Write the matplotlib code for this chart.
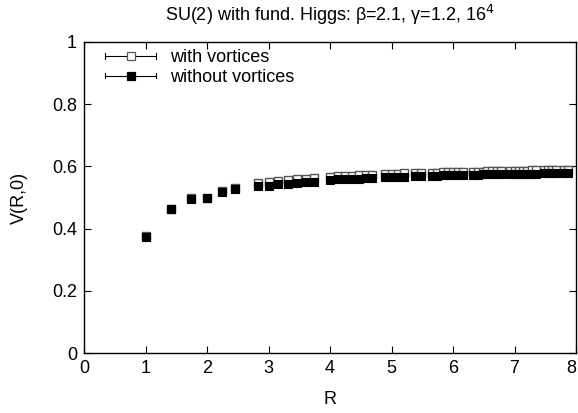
import matplotlib
matplotlib.use("Agg")
import matplotlib.pyplot as plt
from matplotlib.legend_handler import HandlerBase
from matplotlib.lines import Line2D

plt.rcParams['font.family'] = ['Liberation Sans', 'DejaVu Sans']

R = [1.000, 1.414, 1.732, 2.000, 2.236, 2.449, 2.828, 3.000, 3.162, 3.317,
     3.464, 3.606, 3.742, 4.000, 4.123, 4.243, 4.359, 4.472, 4.583, 4.690,
     4.899, 5.000, 5.099, 5.196, 5.385, 5.477, 5.657, 5.745, 5.831, 5.916,
     6.000, 6.083, 6.164, 6.325, 6.403, 6.481, 6.557, 6.633, 6.708, 6.782,
     6.928, 7.000, 7.071, 7.141, 7.211, 7.280, 7.348, 7.483, 7.550, 7.616,
     7.681, 7.810, 7.874]

V_with = [0.375, 0.463, 0.498, 0.500, 0.522, 0.532, 0.546, 0.549, 0.553, 0.556,
          0.558, 0.561, 0.563, 0.567, 0.568, 0.569, 0.570, 0.571, 0.572, 0.573,
          0.575, 0.576, 0.577, 0.578, 0.579, 0.579, 0.580, 0.580, 0.581, 0.581,
          0.582, 0.582, 0.582, 0.583, 0.583, 0.583, 0.584, 0.584, 0.584, 0.585,
          0.585, 0.586, 0.586, 0.586, 0.586, 0.587, 0.587, 0.587, 0.587, 0.588,
          0.588, 0.588, 0.588]

V_without = [0.374, 0.462, 0.495, 0.497, 0.518, 0.527, 0.538, 0.538, 0.542, 0.545,
             0.547, 0.549, 0.551, 0.557, 0.558, 0.559, 0.560, 0.561, 0.562, 0.562,
             0.565, 0.566, 0.567, 0.567, 0.569, 0.569, 0.570, 0.570, 0.571, 0.571,
             0.572, 0.572, 0.572, 0.573, 0.573, 0.574, 0.574, 0.574, 0.575, 0.575,
             0.575, 0.576, 0.576, 0.576, 0.577, 0.577, 0.577, 0.578, 0.578, 0.578,
             0.578, 0.579, 0.579]

x_ticks = [0, 1, 2, 3, 4, 5, 6, 7, 8]
y_ticks = [0, 0.2, 0.4, 0.6, 0.8, 1]
y_ticklabels = ['0', '0.2', '0.4', '0.6', '0.8', '1']

FS = 13

fig = plt.figure(figsize=(5.78, 4.13), dpi=100)
ax = fig.add_axes([84/578, 1-353/413, (576-84)/578, (353-42)/413])

ms = 6.3
ax.plot(R, V_with, linestyle='none', marker='s', markersize=ms,
        markerfacecolor='white', markeredgecolor='#555555', markeredgewidth=1.0,
        zorder=2)
ax.plot(R, V_without, linestyle='none', marker='s', markersize=ms,
        markerfacecolor='black', markeredgecolor='black', markeredgewidth=0.8,
        zorder=3)


class ErrHandler(HandlerBase):
    def __init__(self, face, edge):
        super().__init__()
        self.face = face
        self.edge = edge

    def create_artists(self, legend, orig_handle, xdescent, ydescent,
                       width, height, fontsize, trans):
        y = height / 2 - ydescent
        x0, x1 = -xdescent, width - xdescent
        xm = (x0 + x1) / 2
        cap = 2.0
        arts = [
            Line2D([x0, x1], [y, y], color='black', lw=0.8, transform=trans),
            Line2D([x0, x0], [y - cap, y + cap], color='black', lw=0.8, transform=trans),
            Line2D([x1, x1], [y - cap, y + cap], color='black', lw=0.8, transform=trans),
            Line2D([xm], [y], linestyle='none', marker='s', markersize=ms - 0.8,
                   markerfacecolor=self.face, markeredgecolor=self.edge,
                   markeredgewidth=0.9, transform=trans),
        ]
        return arts


h1 = Line2D([], [])
h2 = Line2D([], [])
ax.legend([h1, h2], ['with vortices', 'without vortices'],
          handler_map={h1: ErrHandler('white', '#555555'),
                       h2: ErrHandler('black', 'black')},
          loc='upper left', bbox_to_anchor=(0.029, 1.0), frameon=False,
          fontsize=FS, handlelength=2.8, handletextpad=0.8,
          labelspacing=0.15, borderaxespad=0.0)

ax.set_xlim(0, 8)
ax.set_ylim(0, 1)
ax.set_xticks(x_ticks)
ax.set_xticklabels([str(t) for t in x_ticks])
ax.get_xticklabels()[-1].set_horizontalalignment('right')
ax.set_yticks(y_ticks)
ax.set_yticklabels(y_ticklabels)
ax.tick_params(direction='in', top=True, right=True, length=5, width=0.8,
               labelsize=FS, pad=5)
for s in ax.spines.values():
    s.set_linewidth(1.0)

ax.set_xlabel('R', fontsize=FS, labelpad=10)
ax.set_ylabel('V(R,0)', fontsize=FS, labelpad=17)
ax.set_title('SU(2) with fund. Higgs: β=2.1, γ=1.2, 16$^4$', fontsize=FS, pad=15)

fig.savefig('out.png', dpi=100)
